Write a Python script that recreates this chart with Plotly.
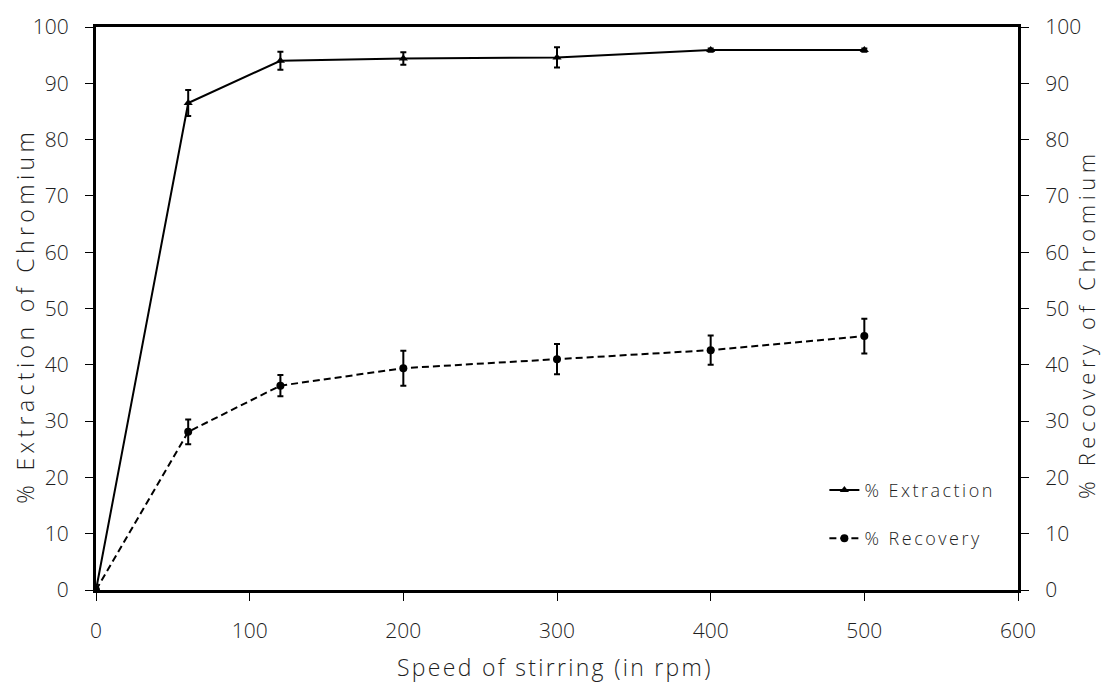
import plotly.graph_objects as go

# Stirring speed (rpm)
speed = [0, 60, 120, 200, 300, 400, 500]

# % extraction of chromium and its standard deviation
extraction = [0, 86.5, 94.0, 94.4, 94.6, 95.9, 95.9]
extraction_err = [0, 2.3, 1.6, 1.1, 1.8, 0.3, 0.3]

# % recovery of chromium and its standard deviation
recovery = [0, 28.1, 36.3, 39.4, 41.0, 42.6, 45.1]
recovery_err = [0, 2.2, 1.9, 3.1, 2.7, 2.6, 3.1]

x_ticks = [0, 100, 200, 300, 400, 500, 600]
y_ticks = [0, 10, 20, 30, 40, 50, 60, 70, 80, 90, 100]

FONT = "Open Sans"
TXT = "#1e1e1e"
W = 300


def spaced(text, px):
    return f'<span style="letter-spacing:{px}px">{text}</span>'


fig = go.Figure()

fig.add_trace(go.Scatter(
    x=speed, y=extraction, name=spaced("% Extraction", 2.5),
    legendgroup="ext",
    mode="lines+markers",
    line=dict(color="black", width=2, dash="solid"),
    marker=dict(symbol="triangle-up", size=8, color="black"),
    error_y=dict(type="data", array=extraction_err, color="black",
                 thickness=2, width=3),
))

fig.add_trace(go.Scatter(
    x=speed, y=recovery, name=spaced("% Recovery", 2.5),
    legendgroup="rec",
    mode="lines+markers",
    line=dict(color="black", width=2, dash="7px,4px"),
    marker=dict(symbol="circle", size=8, color="black"),
    error_y=dict(type="data", array=recovery_err, color="black",
                 thickness=2, width=3),
))

# invisible trace to activate the right-hand axis
fig.add_trace(go.Scatter(x=[None], y=[None], yaxis="y2", showlegend=False,
                         hoverinfo="skip"))

axis_common = dict(
    showgrid=False, zeroline=False,
    ticks="outside", ticklen=8, tickwidth=1, tickcolor="black",
    tickfont=dict(family=FONT, size=21, color=TXT, weight=W),
)

title_font = dict(family=FONT, size=23, color=TXT, weight=W)

fig.update_layout(
    width=1104, height=682,
    margin=dict(l=96, r=86, t=25, b=92),
    paper_bgcolor="white", plot_bgcolor="white",
    font=dict(family=FONT, color=TXT, weight=W),
    xaxis=dict(
        range=[0, 600], tickvals=x_ticks, ticklabelstandoff=12,
        showline=True, linecolor="black", linewidth=3, mirror=True,
        **axis_common,
    ),
    yaxis=dict(
        range=[0, 100], tickvals=y_ticks, ticklabelstandoff=12,
        showline=True, linecolor="black", linewidth=3, mirror=True,
        **axis_common,
    ),
    yaxis2=dict(
        range=[0, 100], tickvals=y_ticks, overlaying="y", side="right",
        ticklabelstandoff=12,
        showline=True, linecolor="black", linewidth=3,
        **axis_common,
    ),
    legend=dict(
        x=0.79, y=0.21, xanchor="left", yanchor="top",
        bgcolor="rgba(255,255,255,0)",
        font=dict(family=FONT, size=18, color=TXT, weight=W),
        tracegroupgap=22,
    ),
    showlegend=True,
    annotations=[
        dict(text=spaced("Speed of stirring (in rpm)", 2.3), xref="paper",
             yref="paper", x=0.498, y=-0.136, showarrow=False,
             xanchor="center", yanchor="middle", font=title_font),
        dict(text=spaced("% Extraction of Chromium", 4.4), xref="paper",
             yref="paper", x=-0.077, y=0.487, showarrow=False, textangle=-90,
             xanchor="center", yanchor="middle", font=title_font),
        dict(text=spaced("% Recovery of Chromium", 4.6), xref="paper",
             yref="paper", x=1.0735, y=0.472, showarrow=False, textangle=-90,
             xanchor="center", yanchor="middle",
             font=dict(family=FONT, size=22, color=TXT, weight=W)),
    ],
)

fig.write_html("out.html")
